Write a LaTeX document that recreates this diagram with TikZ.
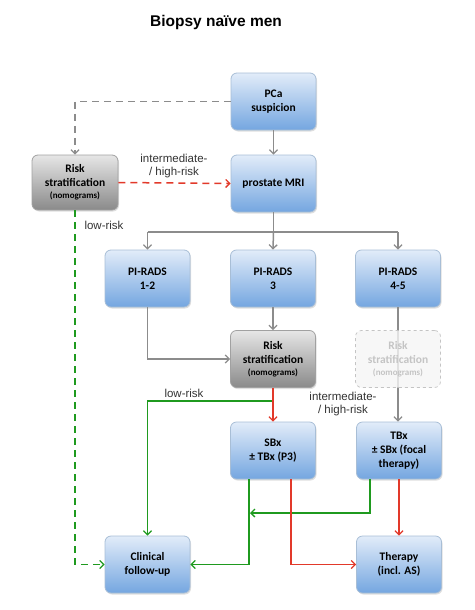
\documentclass[tikz,border=0pt]{standalone}
\usepackage{fontspec}
\setmainfont{Liberation Sans}
\newfontfamily\boxfont{Carlito}
\usetikzlibrary{arrows.meta,shadows}
\definecolor{bluetop}{HTML}{E2ECF9}
\definecolor{bluebot}{HTML}{74A6E0}
\definecolor{blueedge}{HTML}{A8BED6}
\definecolor{graytop}{HTML}{E6E6E6}
\definecolor{graybot}{HTML}{8A8A8A}
\definecolor{lgray}{HTML}{8C8C8C}
\definecolor{lred}{HTML}{E2392A}
\definecolor{lgreen}{HTML}{1F9A1F}
\definecolor{fadetext}{HTML}{C4C4C4}
\begin{document}
\begin{tikzpicture}[x=1pt,y=-1pt,
  boxbase/.style={rounded corners=6pt, minimum width=85pt, minimum height=57pt,
    inner sep=1pt, align=center, font=\boxfont\bfseries\fontsize{11.5}{14}\selectfont},
  bluebox/.style={boxbase, draw=blueedge, line width=0.8pt, top color=bluetop, bottom color=bluebot,
    drop shadow={shadow xshift=1pt, shadow yshift=-1.5pt, opacity=0.25}},
  graybox/.style={boxbase, draw=graytop!70!black, line width=0.8pt, top color=graytop, bottom color=graybot,
    drop shadow={shadow xshift=1pt, shadow yshift=-1.5pt, opacity=0.25}},
  fadebox/.style={boxbase, draw=fadetext, dashed, line width=0.7pt, fill=black!4, fill opacity=0.8, text opacity=1, text=fadetext},
  small/.style={font=\boxfont\bfseries\fontsize{9}{10}\selectfont},
  conn/.style={line width=1.5pt, -{Straight Barb[length=4pt,width=8pt,line width=1.3pt]}},
  plain/.style={line width=1.5pt},
  lbl/.style={font=\fontsize{11.5}{13.5}\selectfont, text=black!80, align=center},
]
\useasboundingbox (0,0) rectangle (474,610);

\node[font=\bfseries\fontsize{15.5}{18}\selectfont] (title) at (216,22) {Biopsy na\"ive men};

\node[bluebox] (pca) at (273.5,101.5) {PCa\\suspicion};
\node[graybox, minimum width=86pt, minimum height=55pt] (risk1) at (75,182.5) {Risk\\stratification\\[-2pt]{\small (nomograms)}};
\node[bluebox] (mri) at (273.5,183.5) {prostate MRI};
\node[bluebox] (pr12) at (147.5,278.5) {PI-RADS\\1-2};
\node[bluebox] (pr3) at (273,278.5) {PI-RADS\\3};
\node[bluebox] (pr45) at (398,278.5) {PI-RADS\\4-5};
\node[graybox] (risk2) at (273,359) {Risk\\stratification\\[-2pt]{\small (nomograms)}};
\node[bluebox] (sbx) at (273,450.5) {SBx\\± TBx (P3)};
\node[bluebox] (tbx) at (399,450.5) {TBx\\± SBx (focal\\therapy)};
\node[bluebox] (fu) at (147.5,564.5) {Clinical\\follow-up};
\node[bluebox] (ther) at (399,564.5) {Therapy\\(incl. AS)};

% coordinates
\coordinate (splitc) at (273.5,232);
\coordinate (gsplit) at (273,401);

% gray connectors
\draw[conn, lgray, dashed, dash pattern=on 7pt off 5pt] (pca.west) -| (risk1.north);
\draw[conn, lgray] (pca) -- (mri);
\draw[plain, lgray] (mri.south) -- (splitc);
\draw[plain, lgray] (pr12.north |- splitc) -- (pr45.north |- splitc);
\draw[conn, lgray] (pr12.north |- splitc) -- (pr12.north);
\draw[conn, lgray] (splitc) -- (pr3.north);
\draw[conn, lgray] (pr45.north |- splitc) -- (pr45.north);
\draw[conn, lgray] (pr12.south) |- (risk2.west);
\draw[conn, lgray] (pr3) -- (risk2);
\draw[conn, lgray] (pr45.south) -- (tbx.north -| pr45.south);

% faded box drawn over line
\node[fadebox] (risk3) at (398,359) {Risk\\stratification\\[-2pt]{\small (nomograms)}};

% red dashed
\draw[conn, lred, dashed, dash pattern=on 7pt off 5pt] (risk1.east) -- (mri.west);
\node[lbl] (l1) at (174,166) {intermediate-\\/ high-risk};

% green dashed low risk
\draw[conn, lgreen, dashed, dash pattern=on 7pt off 5pt] (risk1.south) |- (fu.west);
\node[lbl] (l2) at (104,225) {low-risk};

% middle
\draw[conn, lgreen] (gsplit) -| (fu.north);
\draw[conn, lred] (risk2) -- (sbx);
\node[lbl] (l3) at (184,393) {low-risk};
\node[lbl] (l4) at (343,404) {intermediate-\\/ high-risk};

% bottom
\coordinate (sbxg) at (249,478);
\coordinate (sbxr) at (291,478);
\coordinate (tbxg) at (370,478);
\draw[conn, lgreen] (sbx.south -| sbxg) |- (fu.east);
\draw[conn, lgreen] (tbx.south -| tbxg) |- ([xshift=1pt]sbxg |- 0,513);
\draw[conn, lred] (sbx.south -| sbxr) |- (ther.west);
\draw[conn, lred] (tbx.south) -- (ther.north);
\end{tikzpicture}
\end{document}
